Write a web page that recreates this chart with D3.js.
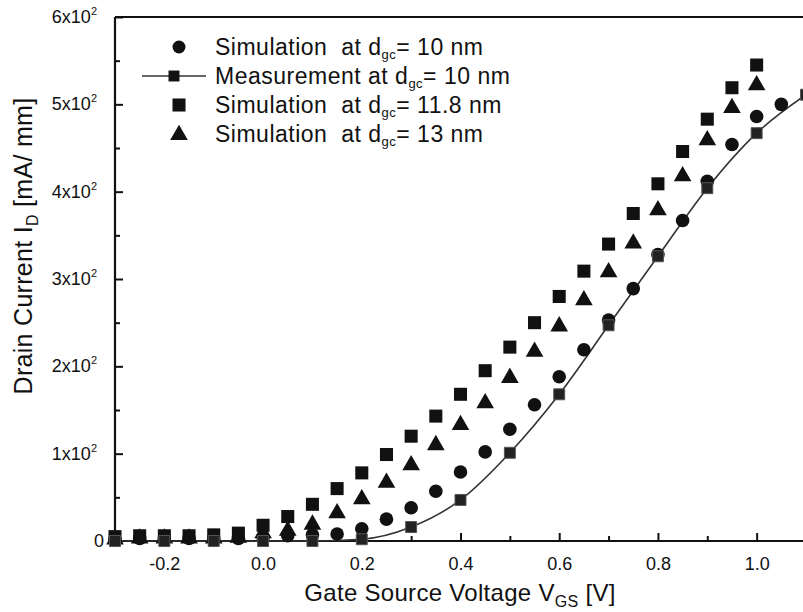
<!DOCTYPE html>
<meta charset="utf-8">
<script src="https://d3js.org/d3.v7.min.js"></script>
<style>
  body { margin: 0; background: #fff; }
  text { font-family: "Liberation Sans", Arial, Helvetica, sans-serif; fill: #111; white-space: pre; }
</style>
<div id="chart"></div>
<script>

// gate voltages (V)
const vSim = [-0.3, -0.25, -0.2, -0.15, -0.1, -0.05, 0.0, 0.05, 0.1, 0.15, 0.2, 0.25, 0.3, 0.35, 0.4, 0.45, 0.5,
              0.55, 0.6, 0.65, 0.7, 0.75, 0.8, 0.85, 0.9, 0.95, 1.0, 1.05];
const vMeas = [-0.3, -0.2, -0.1, 0.0, 0.1, 0.2, 0.3, 0.4, 0.5, 0.6, 0.7, 0.8, 0.9, 1.0, 1.1];

// drain current (mA/mm)
const sim10 = [2, 3, 3, 3, 3, 3, 4, 6, 7, 8, 14, 25, 38, 57, 79, 102, 128,
               156, 188, 219, 253, 289, 328, 367, 412, 454, 486, 500];
const sim118 = [5, 6, 6, 6, 7, 9, 18, 28, 42, 60, 78, 99, 120, 143, 168, 195, 222,
                250, 280, 309, 340, 375, 409, 446, 483, 519, 545, null];
const sim13 = [3, 4, 4, 4, 4, 5, 10, 13, 20, 33, 49, 68, 88, 111, 134, 159, 188,
               218, 247, 277, 309, 342, 380, 419, 460, 497, 523, null];
const meas10 = [0, 0, 0, 0, 0, 2, 16, 47, 101, 168, 247, 326, 404, 467, 511];

const xMajor = [-0.2, 0.0, 0.2, 0.4, 0.6, 0.8, 1.0];
const xMinor = [-0.3, -0.1, 0.1, 0.3, 0.5, 0.7, 0.9];
const yMajor = [0, 100, 200, 300, 400, 500, 600];
const yMinor = [50, 150, 250, 350, 450, 550];

const legendLabels = [
  {pre: "Simulation  at d", sub: "gc", post: "= 10 nm", sym: "circle"},
  {pre: "Measurement at d", sub: "gc", post: "= 10 nm", sym: "meas"},
  {pre: "Simulation  at d", sub: "gc", post: "= 11.8 nm", sym: "square"},
  {pre: "Simulation  at d", sub: "gc", post: "= 13 nm", sym: "triangle"}
];

const W = 803, H = 612;
const svg = d3.select("#chart").append("svg")
    .attr("width", W).attr("height", H);

const x = d3.scaleLinear().domain([-0.3, 1.1]).range([115, 806]);
const y = d3.scaleLinear().domain([0, 600]).range([541, 17]);

// frame
svg.append("line").attr("x1", 115).attr("x2", W).attr("y1", y(600)).attr("y2", y(600))
  .attr("stroke", "#111").attr("stroke-width", 2);

// x axis
const gx = svg.append("g").attr("transform", `translate(0,${y(0)})`);
gx.call(d3.axisBottom(x).tickValues(xMajor).tickSize(-8).tickPadding(16)
    .tickFormat(d => d.toFixed(1)));
gx.append("g").call(d3.axisBottom(x).tickValues(xMinor).tickSize(-5).tickFormat(""));
gx.selectAll(".domain").attr("stroke", "none");
gx.append("line").attr("x1", 115).attr("x2", W).attr("stroke", "#111").attr("stroke-width", 2.2);
gx.selectAll(".tick line").attr("stroke", "#111").attr("stroke-width", 2);
gx.selectAll(".tick text").attr("font-size", 18).attr("font-family", "Liberation Sans, Arial").attr("fill", "#111");

// y axis
const gy = svg.append("g").attr("transform", `translate(115,0)`);
gy.call(d3.axisLeft(y).tickValues(yMajor).tickSize(-8).tickFormat(""));
gy.append("g").call(d3.axisLeft(y).tickValues(yMinor).tickSize(-5).tickFormat(""));
gy.selectAll(".domain").attr("stroke", "none");
gy.append("line").attr("y1", y(600)).attr("y2", y(0)).attr("stroke", "#111").attr("stroke-width", 2.2);
gy.selectAll(".tick line").attr("stroke", "#111").attr("stroke-width", 2);

// y tick labels with superscript
const yl = svg.append("g").selectAll("text").data(yMajor).join("text")
    .attr("x", d => d === 0 ? 104 : 97)
    .attr("y", d => y(d) + 6)
    .attr("text-anchor", "end")
    .attr("font-size", 18);
yl.each(function(d) {
  const t = d3.select(this);
  if (d === 0) { t.text("0"); return; }
  t.append("tspan").text(`${d / 100}x10`);
  t.append("tspan").attr("font-size", 11).attr("dy", -8).text("2");
});

// axis titles
const xt = svg.append("text").attr("x", 460).attr("y", 601).attr("text-anchor", "middle")
    .attr("font-size", 24).attr("letter-spacing", 0.3);
xt.append("tspan").text("Gate Source Voltage V");
xt.append("tspan").attr("font-size", 16).attr("dy", 6).text("GS");
xt.append("tspan").attr("dy", -6).text(" [V]");

const yt = svg.append("text").attr("transform", "translate(32,246) rotate(-90)")
    .attr("text-anchor", "middle").attr("font-size", 25).attr("letter-spacing", 0.3);
yt.append("tspan").text("Drain Current I");
yt.append("tspan").attr("font-size", 16).attr("dy", 6).text("D");
yt.append("tspan").attr("dy", -6).text(" [mA/ mm]");

// symbols
const sqr = d3.symbol().type(d3.symbolSquare).size(170);
const tri = d3.symbol().type(d3.symbolTriangle).size(135);
const msq = d3.symbol().type(d3.symbolSquare).size(120);

const plot = svg.append("g");

// measurement line
const pts = vMeas.map((v, i) => [v, meas10[i]]);
plot.append("path").datum(pts)
  .attr("fill", "none").attr("stroke", "#333").attr("stroke-width", 1.6)
  .attr("d", d3.line().x(d => x(d[0])).y(d => y(d[1])).curve(d3.curveMonotoneX));

const s118 = vSim.map((v, i) => [v, sim118[i]]).filter(d => d[1] !== null);
const s13 = vSim.map((v, i) => [v, sim13[i]]).filter(d => d[1] !== null);
const s10 = vSim.map((v, i) => [v, sim10[i]]);

plot.selectAll(".sq").data(s118).join("path")
  .attr("transform", d => `translate(${x(d[0])},${y(d[1])})`).attr("d", sqr).attr("fill", "#111");
plot.selectAll(".tr").data(s13).join("path")
  .attr("transform", d => `translate(${x(d[0])},${y(d[1]) + 1})`).attr("d", tri).attr("fill", "#111");
plot.selectAll(".ci").data(s10).join("circle")
  .attr("cx", d => x(d[0])).attr("cy", d => y(d[1])).attr("r", 6.8).attr("fill", "#111");
plot.selectAll(".ms").data(pts).join("path")
  .attr("transform", d => `translate(${x(d[0])},${y(d[1])})`).attr("d", msq)
  .attr("fill", "#222").attr("stroke", "#555").attr("stroke-width", 1);

// legend
const lg = svg.append("g");
legendLabels.forEach((L, i) => {
  const cy = 47 + i * 29;
  if (L.sym === "circle") lg.append("circle").attr("cx", 179).attr("cy", cy).attr("r", 6.5).attr("fill", "#111");
  if (L.sym === "square") lg.append("path").attr("transform", `translate(179,${cy})`).attr("d", sqr).attr("fill", "#111");
  if (L.sym === "triangle") lg.append("path").attr("transform", `translate(179,${cy + 1})`).attr("d", tri).attr("fill", "#111");
  if (L.sym === "meas") {
    lg.append("line").attr("x1", 142).attr("x2", 206).attr("y1", cy).attr("y2", cy).attr("stroke", "#333").attr("stroke-width", 1.6);
    lg.append("path").attr("transform", `translate(174,${cy})`).attr("d", msq).attr("fill", "#111");
  }
  const t = lg.append("text").attr("x", 215).attr("y", cy + 8).attr("font-size", 23).attr("letter-spacing", 0.5);
  t.append("tspan").text(L.pre);
  t.append("tspan").attr("font-size", 13).attr("dy", 4).text(L.sub);
  t.append("tspan").attr("dy", -4).text(L.post);
});

</script>
